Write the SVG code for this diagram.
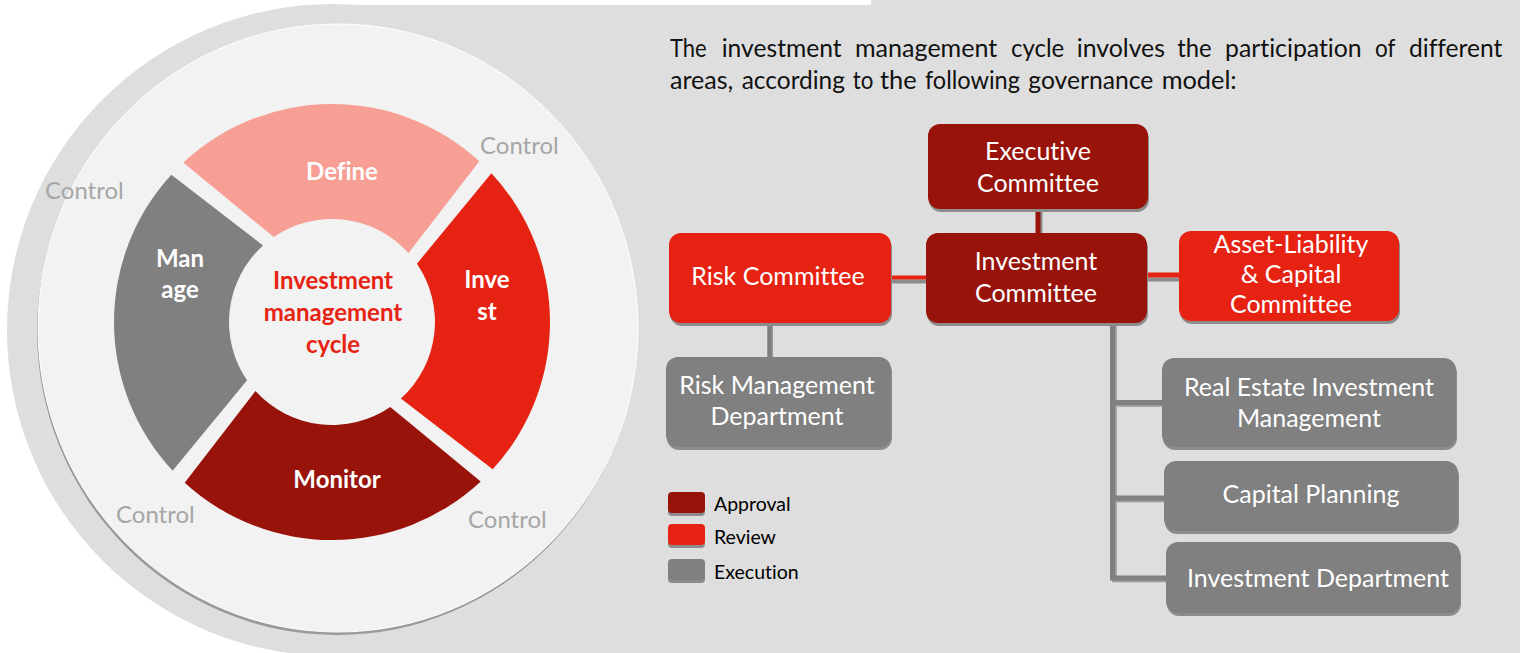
<svg xmlns="http://www.w3.org/2000/svg" width="1520" height="653" viewBox="0 0 1520 653">
<style>
text{font-family:Lato,"Liberation Sans",sans-serif;font-variant-ligatures:none}
.seg text{font-weight:700;fill:#fff;font-size:24px;text-anchor:middle}
.ctr{font-weight:700;fill:#E62312;font-size:24px;text-anchor:middle}
.ctl{fill:#A6A6A6;font-size:24px}
.box text{fill:#fff;font-size:25px;text-anchor:middle}
.sh{fill:#8c8c8c}
.appr{fill:#98130A}
.rev{fill:#E62312}
.exe{fill:#808080}
.para{fill:#111;font-size:25px}
.leg text{fill:#000;font-size:19.5px}
.ln{fill:none;stroke-linecap:butt}
</style>
<rect width="1520" height="653" fill="#fff"/>
<g id="background">
<circle cx="333" cy="330" r="326" fill="#DEDEDE"/>
<rect x="333" y="5" width="1187" height="648" fill="#DEDEDE"/>
<rect x="871" y="0" width="649" height="6" fill="#DEDEDE"/>
<ellipse cx="337" cy="331" rx="300" ry="304" fill="#9a9a9a"/>
<ellipse cx="338" cy="328" rx="300" ry="304" fill="#F2F2F2" stroke="#fff" stroke-width="1"/>
</g>
<g id="wheel">
<g id="define" class="seg">
<path d="M183.3,162.6 A218,218 0 0 1 479.3,161.3 L408.5,253.1 A103,103 0 0 0 273.7,237.1 Z" fill="#F79E95"/>
<text x="342" y="180">Define</text>
</g>
<g id="invest" class="seg">
<path d="M491.4,173.3 A218,218 0 0 1 492.7,469.3 L400.9,398.5 A103,103 0 0 0 416.9,263.7 Z" fill="#E62312"/>
<text x="487" y="288">Inve</text>
<text x="487" y="320">st</text>
</g>
<g id="monitor" class="seg">
<path d="M480.7,481.4 A218,218 0 0 1 184.7,482.7 L255.5,390.9 A103,103 0 0 0 390.3,406.9 Z" fill="#98130A"/>
<text x="337" y="488">Monitor</text>
</g>
<g id="manage" class="seg">
<path d="M172.6,470.7 A218,218 0 0 1 171.3,174.7 L263.1,245.5 A103,103 0 0 0 247.1,380.3 Z" fill="#808080"/>
<text x="180" y="267">Man</text>
<text x="180" y="298">age</text>
</g>
<g id="cycle-center">
<text class="ctr" x="333" y="289">Investment</text>
<text class="ctr" x="333" y="321">management</text>
<text class="ctr" x="333" y="353">cycle</text>
</g>
<g id="controls">
<text class="ctl" x="480" y="154">Control</text>
<text class="ctl" x="45" y="199">Control</text>
<text class="ctl" x="116" y="523">Control</text>
<text class="ctl" x="468" y="528">Control</text>
</g>
</g>
<g id="intro">
<text class="para" y="57"><tspan x="670" textLength="36.7" lengthAdjust="spacingAndGlyphs">The</tspan> <tspan x="721.7" textLength="120" lengthAdjust="spacingAndGlyphs">investment</tspan> <tspan x="855" textLength="142.3" lengthAdjust="spacingAndGlyphs">management</tspan> <tspan x="1011" textLength="53.3" lengthAdjust="spacingAndGlyphs">cycle</tspan> <tspan x="1076.7" textLength="88.3" lengthAdjust="spacingAndGlyphs">involves</tspan> <tspan x="1177.3" textLength="34.4" lengthAdjust="spacingAndGlyphs">the</tspan> <tspan x="1225" textLength="136.7" lengthAdjust="spacingAndGlyphs">participation</tspan> <tspan x="1375" textLength="20" lengthAdjust="spacingAndGlyphs">of</tspan> <tspan x="1409" textLength="93.3" lengthAdjust="spacingAndGlyphs">different</tspan></text>
<text class="para" y="89"><tspan x="670" textLength="63.3" lengthAdjust="spacingAndGlyphs">areas,</tspan> <tspan x="741.7" textLength="103.3" lengthAdjust="spacingAndGlyphs">according</tspan> <tspan x="852.7" textLength="20.6" lengthAdjust="spacingAndGlyphs">to</tspan> <tspan x="880" textLength="36.7" lengthAdjust="spacingAndGlyphs">the</tspan> <tspan x="925" textLength="95" lengthAdjust="spacingAndGlyphs">following</tspan> <tspan x="1028.3" textLength="125" lengthAdjust="spacingAndGlyphs">governance</tspan> <tspan x="1161.7" textLength="75" lengthAdjust="spacingAndGlyphs">model:</tspan></text>
</g>
<g id="connectors">
<line class="ln" x1="1040" y1="209" x2="1040" y2="233" stroke="#8c8c8c" stroke-width="5"/>
<line class="ln" x1="1038" y1="209" x2="1038" y2="233" stroke="#98130A" stroke-width="5"/>
<line class="ln" x1="890" y1="281.5" x2="926" y2="281.5" stroke="#8c8c8c" stroke-width="4"/>
<line class="ln" x1="890" y1="277.5" x2="926" y2="277.5" stroke="#E62312" stroke-width="4"/>
<line class="ln" x1="1146" y1="279.5" x2="1179" y2="279.5" stroke="#8c8c8c" stroke-width="4"/>
<line class="ln" x1="1146" y1="275" x2="1179" y2="275" stroke="#E62312" stroke-width="5"/>
<line class="ln" x1="771" y1="323" x2="771" y2="357" stroke="#999" stroke-width="4"/>
<line class="ln" x1="769.5" y1="323" x2="769.5" y2="357" stroke="#808080" stroke-width="4.5"/>
<path class="ln" d="M1114.5,323 V580 H1168 M1114.5,404.5 H1164 M1114.5,500 H1166" stroke="#999" stroke-width="4.5"/>
<path class="ln" d="M1112.5,323 V578 H1168 M1112.5,402.5 H1164 M1112.5,498 H1166" stroke="#808080" stroke-width="5"/>
</g>
<g id="executive-committee" class="box">
<rect class="sh" x="929" y="127" width="220" height="85" rx="12"/>
<rect class="appr" x="928" y="124" width="220" height="85" rx="12"/>
<text x="1038" y="160">Executive</text>
<text x="1038" y="192">Committee</text>
</g>
<g id="investment-committee" class="box">
<rect class="sh" x="927" y="236" width="221" height="90" rx="12"/>
<rect class="appr" x="926" y="233" width="221" height="90" rx="12"/>
<text x="1036" y="270">Investment</text>
<text x="1036" y="302">Committee</text>
</g>
<g id="risk-committee" class="box">
<rect class="sh" x="670" y="236" width="222" height="90" rx="12"/>
<rect class="rev" x="669" y="233" width="222" height="90" rx="12"/>
<text x="778" y="285">Risk Committee</text>
</g>
<g id="alco" class="box">
<rect class="sh" x="1180" y="234" width="220" height="90" rx="12"/>
<rect class="rev" x="1179" y="231" width="220" height="90" rx="12"/>
<text x="1291" y="253">Asset-Liability</text>
<text x="1291" y="283">&amp; Capital</text>
<text x="1291" y="313">Committee</text>
</g>
<g id="risk-management-department" class="box">
<rect class="sh" x="667" y="360" width="225" height="90" rx="12"/>
<rect class="exe" x="666" y="357" width="225" height="90" rx="12"/>
<text x="777" y="394">Risk Management</text>
<text x="777" y="425">Department</text>
</g>
<g id="real-estate-investment-management" class="box">
<rect class="sh" x="1163" y="361" width="294" height="89" rx="12"/>
<rect class="exe" x="1162" y="358" width="294" height="89" rx="12"/>
<text x="1309" y="396">Real Estate Investment</text>
<text x="1309" y="427">Management</text>
</g>
<g id="capital-planning" class="box">
<rect class="sh" x="1165" y="464" width="294" height="70" rx="12"/>
<rect class="exe" x="1164" y="461" width="294" height="70" rx="12"/>
<text x="1311" y="503">Capital Planning</text>
</g>
<g id="investment-department" class="box">
<rect class="sh" x="1167" y="545" width="294" height="71" rx="12"/>
<rect class="exe" x="1166" y="542" width="294" height="71" rx="12"/>
<text x="1318" y="587">Investment Department</text>
</g>
<g id="legend" class="leg">
<rect class="sh" x="668" y="495" width="37" height="21" rx="4"/>
<rect class="appr" x="668" y="492" width="37" height="21" rx="4"/>
<text x="714" y="511">Approval</text>
<rect class="sh" x="668" y="527" width="37" height="21" rx="4"/>
<rect class="rev" x="668" y="524" width="37" height="21" rx="4"/>
<text x="714" y="544">Review</text>
<rect class="sh" x="668" y="562" width="37" height="21" rx="4"/>
<rect class="exe" x="668" y="559" width="37" height="21" rx="4"/>
<text x="714" y="579">Execution</text>
</g>
</svg>
